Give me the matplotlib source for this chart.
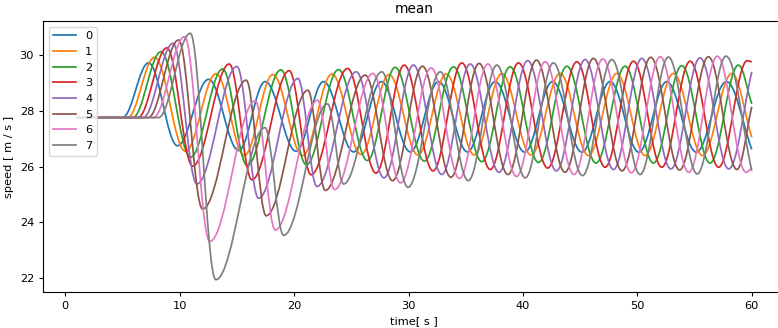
import matplotlib
matplotlib.use("Agg")
from matplotlib import pyplot as plt
from matplotlib.path import Path
from matplotlib.patches import PathPatch
from matplotlib.lines import Line2D

# turning points (time, speed) for each car; curves are
# drawn as smooth bezier segments with flat tangents at every turning point
t0 = [1.0, 5.0, 7.28, 9.8, 12.52, 15.15, 17.47, 20.17, 22.57, 25.2, 27.62, 30.15, 32.62,
      35.15, 37.57, 40.15, 42.58, 45.15, 47.62, 50.12, 52.57, 55.15, 57.78, 60.0]
v0 = [27.76, 27.76, 29.72, 26.75, 29.13, 26.58, 29.05, 26.55, 29.05, 26.53, 29.05, 26.53, 29.05,
      26.53, 29.05, 26.52, 29.05, 26.52, 29.05, 26.52, 29.05, 26.52, 29.05, 26.62]

t1 = [1.0, 5.45, 7.8, 10.5, 13.18, 15.65, 18.13, 20.74, 23.3, 25.85, 28.3, 30.82, 33.3,
      35.75, 38.15, 40.7, 43.25, 45.72, 48.2, 50.68, 53.15, 55.7, 58.25, 60.0]
v1 = [27.76, 27.76, 29.92, 26.55, 29.33, 26.4, 29.3, 26.4, 29.32, 26.44, 29.3, 26.42, 29.32,
      26.42, 29.34, 26.42, 29.34, 26.4, 29.34, 26.4, 29.34, 26.4, 29.34, 27.05]

t2 = [1.0, 5.9, 8.36, 10.95, 13.75, 15.9, 18.84, 21.07, 23.88, 26.4, 28.83, 31.38, 33.93,
      36.4, 38.88, 41.36, 43.84, 46.38, 48.93, 51.4, 53.88, 56.35, 58.83, 60.0]
v2 = [27.76, 27.76, 30.12, 26.34, 29.5, 26.04, 29.47, 26.07, 29.48, 26.22, 29.56, 26.2, 29.58,
      26.18, 29.58, 26.15, 29.6, 26.13, 29.6, 26.13, 29.62, 26.13, 29.64, 28.25]

t3 = [1.0, 6.35, 8.88, 11.13, 14.33, 16.31, 19.57, 21.48, 24.67, 27.15, 29.62, 32.14, 34.66,
      37.14, 39.61, 42.16, 44.71, 47.18, 49.66, 52.13, 54.61, 57.1, 59.6, 60.0]
v3 = [27.76, 27.76, 30.26, 26.02, 29.68, 25.53, 29.44, 25.71, 29.52, 25.77, 29.64, 25.85, 29.72,
      25.9, 29.72, 25.95, 29.76, 25.98, 29.78, 25.98, 29.78, 25.98, 29.8, 29.75]

t4 = [1.0, 6.8, 9.41, 11.5, 15.0, 16.9, 20.33, 21.99, 25.43, 27.85, 30.43, 32.9, 35.39,
      37.9, 40.42, 42.92, 45.43, 47.91, 50.39, 52.93, 55.48, 57.98, 60.0]
v4 = [27.76, 27.76, 30.42, 25.38, 29.59, 24.87, 29.16, 25.29, 29.4, 25.6, 29.64, 25.72, 29.68,
      25.8, 29.8, 25.85, 29.84, 25.9, 29.88, 25.92, 29.9, 25.92, 29.4]

t5 = [1.0, 7.25, 9.9, 12.0, 15.81, 17.56, 21.2, 22.72, 26.21, 28.6, 31.22, 33.7, 36.17,
      38.68, 41.18, 43.67, 46.16, 48.66, 51.17, 53.69, 56.21, 58.7, 60.0]
v5 = [27.76, 27.76, 30.54, 24.48, 29.1, 24.24, 28.74, 25.15, 29.28, 25.5, 29.6, 25.62, 29.7,
      25.72, 29.82, 25.8, 29.88, 25.85, 29.92, 25.88, 29.94, 25.9, 28.15]

t6 = [1.0, 7.7, 10.43, 12.62, 16.6, 18.35, 22.05, 23.53, 26.88, 29.3, 31.98, 34.45, 36.93,
      39.44, 41.94, 44.46, 46.98, 49.48, 51.99, 54.49, 56.99, 59.5, 60.0]
v6 = [27.76, 27.76, 30.66, 23.32, 28.36, 23.73, 28.38, 25.18, 29.34, 25.42, 29.54, 25.58, 29.68,
      25.65, 29.76, 25.72, 29.86, 25.78, 29.94, 25.8, 29.96, 25.8, 25.95]

t7 = [1.0, 8.15, 10.92, 13.15, 17.45, 19.08, 22.92, 24.32, 27.67, 29.95, 32.77, 35.22, 37.72,
      40.2, 42.66, 45.2, 47.77, 50.24, 52.71, 55.23, 57.75, 60.0]
v7 = [27.76, 27.76, 30.78, 21.95, 27.4, 23.54, 28.25, 25.38, 29.4, 25.26, 29.4, 25.5, 29.64,
      25.6, 29.72, 25.68, 29.84, 25.72, 29.93, 25.74, 29.96, 25.85]

labels = ['0', '1', '2', '3', '4', '5', '6', '7']
series = [(t0, v0), (t1, v1), (t2, v2), (t3, v3), (t4, v4), (t5, v5), (t6, v6), (t7, v7)]

K = 0.363  # bezier handle length that makes a half wave look like a cosine


def wave_path(ts, vs):
    verts = [(ts[0], vs[0]), (ts[1], vs[1])]
    codes = [Path.MOVETO, Path.LINETO]
    n = len(ts)
    for i in range(1, n - 1):
        a, va, b, vb = ts[i], vs[i], ts[i + 1], vs[i + 1]
        d = (b - a) * K
        if i == n - 2:
            # last piece stops mid-slope at t=60
            c2 = (b - d, vb - K * (vb - va))
        else:
            c2 = (b - d, vb)
        verts += [(a + d, va), c2, (b, vb)]
        codes += [Path.CURVE4] * 3
    return Path(verts, codes)


plt.rcParams['font.size'] = 8.2
plt.rcParams['xtick.major.size'] = 2.9
plt.rcParams['ytick.major.size'] = 2.9

fig = plt.figure(figsize=(7.78, 3.28), dpi=100)
ax = fig.add_axes([0.0553, 0.1098, 0.9544, 0.8262])

colors = plt.rcParams['axes.prop_cycle'].by_key()['color']
handles = []
for i, (ts, vs) in enumerate(series):
    ax.add_patch(PathPatch(wave_path(ts, vs), fill=False, edgecolor=colors[i], lw=1.25))
    handles.append(Line2D([], [], color=colors[i], lw=1.25))
ax.autoscale_view()

ax.set_title('mean')
ax.set_xlabel('time[ s ]')
ax.set_ylabel('speed [ m / s ]')
ax.legend(handles, labels, loc='upper left')

fig.savefig('out.png', dpi=100)
